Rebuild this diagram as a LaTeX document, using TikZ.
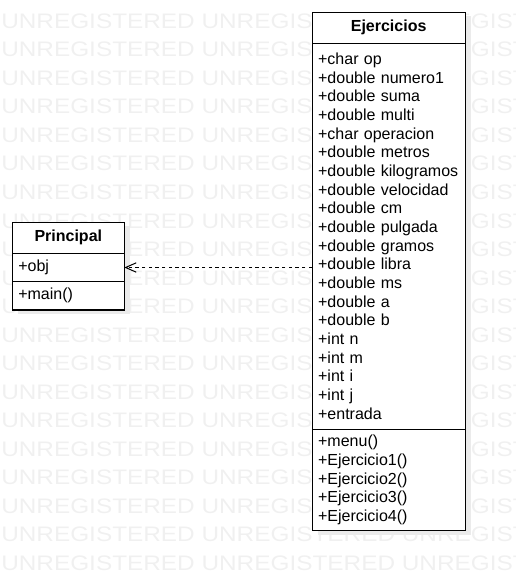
\documentclass[tikz,border=0pt]{standalone}
\usepackage{fontspec}
\setmainfont{Liberation Sans}
\usetikzlibrary{positioning, arrows.meta, shadows}

\begin{document}
\begin{tikzpicture}[x=0.75pt, y=-0.75pt]
	% Define styles
	\tikzset{
		boxshadow/.style={drop shadow={shadow xshift=4.5pt, shadow yshift=-3pt, fill=black!8, opacity=1}},
		classhead/.style={rectangle, draw, fill=white, line width=0.8pt, outer sep=0pt, font=\fontsize{12pt}{14pt}\selectfont\bfseries, minimum height=23.25pt, boxshadow},
		classpart/.style={rectangle, draw, fill=white, line width=0.8pt, outer sep=0pt, inner xsep=4.5pt, inner ysep=0pt, align=left, font=\fontsize{12pt}{14pt}\selectfont, boxshadow},
		depend/.style={draw, dash pattern=on 2.5pt off 2.5pt, line width=0.75pt, -{Straight Barb[length=8pt, width=7pt]}},
		watermark/.style={anchor=base west, inner sep=0pt, text=black!6, font=\fontsize{15.75pt}{15.75pt}\selectfont}
	}
	
	\path[use as bounding box, clip] (0,0) rectangle (515,581);
	
	% Watermark
	\foreach \k in {0,...,19}
		\node[watermark] (wm\k) at (1, 28.5+28.5*\k) {\scalebox{1.16}[1]{UNREGISTERED UNREGISTERED UNREGISTERED}};
	
	% Nodes
	\node[classhead, minimum width=114.75pt] (ejhead) at (388.65, 27.8) {Ejercicios};
	\node[classpart, text width=105.75pt, minimum height=289.3pt, below=0pt of ejhead] (ejattr) {+char op\\+double numero1\\+double suma\\+double multi\\+char operacion\\+double metros\\+double kilogramos\\+double velocidad\\+double cm\\+double pulgada\\+double gramos\\+double libra\\+double ms\\+double a\\+double b\\+int n\\+int m\\+int i\\+int j\\+entrada};
	\node[classpart, text width=105.75pt, minimum height=76.3pt, below=0pt of ejattr] (ejmeth) {+menu()\\+Ejercicio1()\\+Ejercicio2()\\+Ejercicio3()\\+Ejercicio4()};
	
	\node[classhead, minimum width=84pt] (prhead) at (68.3, 237.8) {Principal};
	\node[classpart, text width=75pt, minimum height=21.3pt, below=0pt of prhead] (prattr) {+obj};
	\node[classpart, text width=75pt, minimum height=21.2pt, below=0pt of prattr] (prmeth) {+main()};
	
	% Arrows
	\draw[depend] (ejattr.west |- prattr.east) -- (prattr.east);
	
\end{tikzpicture}
\end{document}
